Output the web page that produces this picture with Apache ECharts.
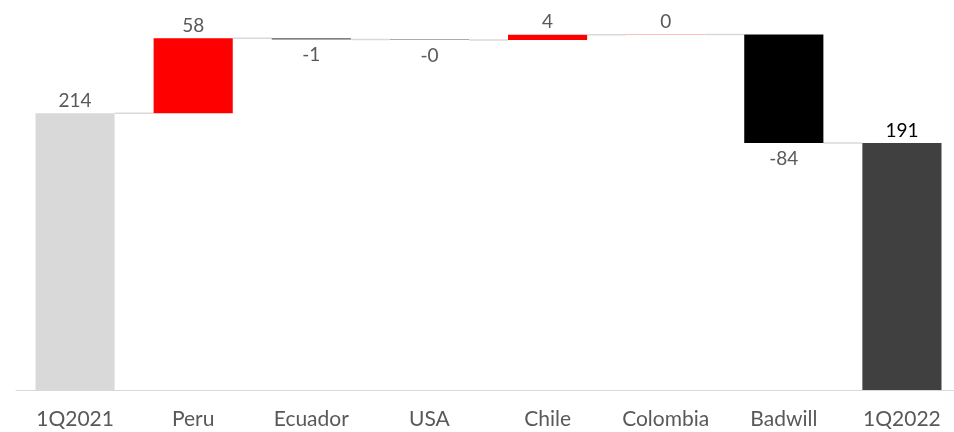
<!DOCTYPE html>
<html><head><meta charset="utf-8">
<script src="https://cdn.jsdelivr.net/npm/echarts@6/dist/echarts.min.js"></script>
<style>html,body{margin:0;padding:0;background:#fff}#c{width:954px;height:432px}</style>
</head><body><div id="c"></div>
<script>
const categories = ['1Q2021','Peru','Ecuador','USA','Chile','Colombia','Badwill','1Q2022'];
const deltas = [214, 58, -1, -0.3, 4, 0.2, -84, 191];
const labels = ['214','58','-1','-0','4','0','-84','191'];
const isTotal = [true,false,false,false,false,false,false,true];
const colors = ['#d9d9d9','#ff0000','#595959','#595959','#ff0000','#ff0000','#000000','#404040'];

const base = [], height = [], levels = [];
let run = 0;
for (let i = 0; i < deltas.length; i++) {
  if (isTotal[i]) { base.push(0); height.push(deltas[i]); run = deltas[i]; }
  else {
    const nxt = run + deltas[i];
    base.push(Math.min(run, nxt)); height.push(Math.abs(deltas[i])); run = nxt;
  }
  levels.push(run);
}
const FONT = 'Lato';
const chart = echarts.init(document.getElementById('c'));
chart.setOption({
  animation:false,
  grid:{left:16,width:945,top:2,bottom:42,outerBoundsMode:'none',containLabel:false},
  xAxis:{type:'category',data:categories,
    axisLine:{lineStyle:{color:'#d9d9d9',width:1}},axisTick:{show:false},
    axisLabel:{color:'#595959',fontSize:21,fontFamily:FONT,margin:19}},
  yAxis:{type:'value',min:0,max:300,show:false,splitLine:{show:false}},
  series:[
    {type:'bar',stack:'w',data:base,itemStyle:{color:'transparent'},barWidth:'67%',silent:true},
    {type:'bar',stack:'w',barWidth:'67%',
      data:height.map((h,i)=>({value:h,itemStyle:{color:colors[i]},
        label:{show:true,position:(isTotal[i]||deltas[i]>=0)?'top':'bottom',distance:(isTotal[i]||deltas[i]>=0)?3:6,
          formatter:labels[i],color:i===7?'#000':'#595959',fontSize:19,fontFamily:FONT}}))},
    {type:'custom',z:1,
      renderItem:function(params,api){
        const i = params.dataIndex;
        if (i >= categories.length-1) return null;
        const p1 = api.coord([i, levels[i]]);
        const p2 = api.coord([i+1, levels[i]]);
        const bw = api.size([1,0])[0]*0.335;
        return {type:'line',shape:{x1:p1[0]+bw,y1:p1[1],x2:p2[0]-bw,y2:p2[1]},
          style:{stroke:'#d9d9d9',lineWidth:1.5}};
      },
      data:levels.map((v,i)=>[i,v])}
  ]
});
</script></body></html>
